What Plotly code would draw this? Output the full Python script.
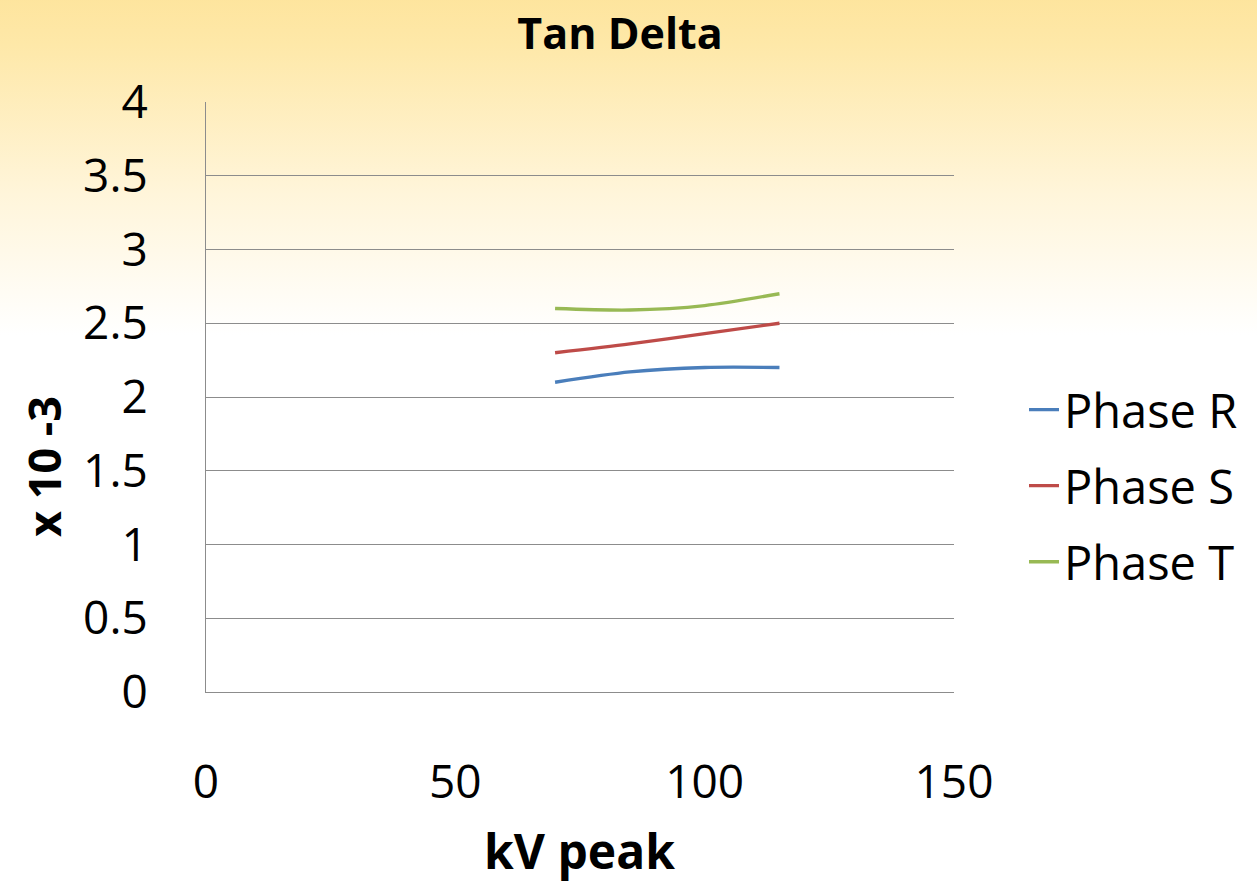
import base64
import plotly.graph_objects as go

# ---- data ----
kv_peak = [70, 85, 100, 115]
phase_r = [2.10, 2.17, 2.20, 2.20]
phase_s = [2.30, 2.36, 2.43, 2.50]
phase_t = [2.60, 2.59, 2.62, 2.70]
series_names = ["Phase R", "Phase S", "Phase T"]
series_colors = ["#4A7EBB", "#BE4B48", "#98B954"]
x_ticks = [0, 50, 100, 150]
y_ticks = [0, 0.5, 1, 1.5, 2, 2.5, 3, 3.5, 4]
y_tick_text = ["0", "0.5", "1", "1.5", "2", "2.5", "3", "3.5", "4"]

W, H = 1257, 883
L, R, T, B = 206, 303, 102, 191
pw, ph = W - L - R, H - T - B

fig = go.Figure()
for i, (name, ys) in enumerate(zip(series_names, [phase_r, phase_s, phase_t])):
    fig.add_trace(go.Scatter(
        x=kv_peak, y=ys, name=name, mode="lines",
        line=dict(color=series_colors[i], width=3.3, shape="spline", smoothing=0.8),
        legendgroup=name,
    ))

svg = ('<svg xmlns="http://www.w3.org/2000/svg" width="1257" height="883" preserveAspectRatio="none">'
       '<defs><linearGradient id="g" x1="0" y1="0" x2="0" y2="1">'
       '<stop offset="0" stop-color="#FDDE89"/>'
       '<stop offset="0.15" stop-color="#FEE8A8"/>'
       '<stop offset="0.32" stop-color="#FFF5DA"/>'
       '<stop offset="0.48" stop-color="#FFFFFF"/>'
       '<stop offset="1" stop-color="#FFFFFF"/>'
       '</linearGradient></defs><rect width="100%" height="100%" fill="url(#g)"/></svg>')
src = "data:image/svg+xml;base64," + base64.b64encode(svg.encode()).decode()

font_family = "Open Sans"
fig.update_layout(
    width=W, height=H, autosize=False,
    margin=dict(l=L, r=R, t=T, b=B, pad=0),
    paper_bgcolor="white",
    plot_bgcolor="rgba(0,0,0,0)",
    images=[dict(source=src, xref="paper", yref="paper",
                 x=-L / pw, y=(ph + B) / ph, sizex=W / pw, sizey=H / ph,
                 sizing="stretch", xanchor="left", yanchor="top", layer="below")],
    title=dict(text="<b>Tan Delta</b>", x=620 / W, xanchor="center",
               y=1 - 34 / H, yanchor="middle",
               font=dict(family=font_family, size=43, color="black")),
    showlegend=True,
    legend=dict(x=(1024 - L) / pw, xanchor="left", y=(H - B - 486) / ph, yanchor="middle",
                font=dict(family=font_family, size=47, color="black"),
                bgcolor="rgba(0,0,0,0)", tracegroupgap=12, itemwidth=30),
    xaxis=dict(range=[0, 150], tickvals=x_ticks, ticktext=[str(v) for v in x_ticks],
               showgrid=False, zeroline=False, showline=True, linecolor="#8C8C8C", linewidth=1,
               ticks="", ticklabelstandoff=50,
               tickfont=dict(family=font_family, size=46, color="black")),
    yaxis=dict(range=[0, 4], tickvals=y_ticks, ticktext=y_tick_text,
               showgrid=True, gridcolor="#8C8C8C", gridwidth=1, zeroline=False,
               showline=True, linecolor="#8C8C8C", linewidth=1,
               ticks="", ticklabelstandoff=48,
               tickfont=dict(family=font_family, size=46, color="black")),
    annotations=[
        dict(text="<b>kV peak</b>", xref="paper", yref="paper",
             x=(579 - L) / pw, y=(H - B - 850) / ph, xanchor="center", yanchor="middle",
             showarrow=False, font=dict(family=font_family, size=48, color="black")),
        dict(text="<b>x 10 -3</b>", xref="paper", yref="paper", textangle=-90,
             x=(43 - L) / pw, y=(H - B - 467) / ph, xanchor="center", yanchor="middle",
             showarrow=False, font=dict(family=font_family, size=45, color="black")),
    ],
)

fig.write_html("out.html")
